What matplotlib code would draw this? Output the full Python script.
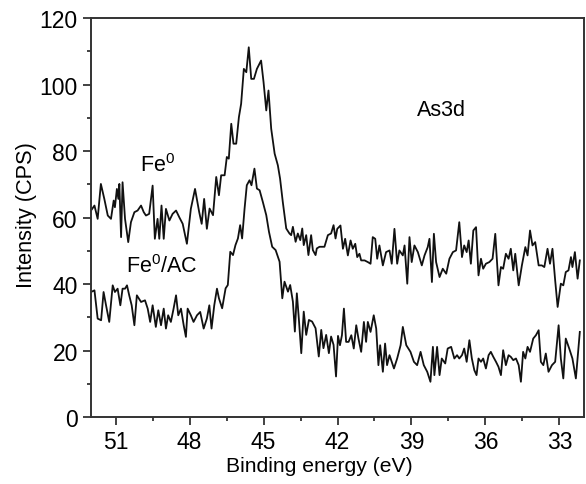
import matplotlib
matplotlib.use("Agg")
import matplotlib.pyplot as plt
from matplotlib.ticker import MultipleLocator

plt.rcParams['font.family'] = ['Liberation Sans', 'DejaVu Sans']
plt.rcParams['mathtext.default'] = 'regular'

# Fe0 spectrum (binding energy eV, intensity CPS)
x_fe = [52.00, 51.86, 51.73, 51.60, 51.46, 51.32, 51.19, 51.08, 51.03, 50.95, 50.89, 50.85,
        50.78, 50.72, 50.62, 50.49, 50.38, 50.24, 50.11, 49.97, 49.86, 49.77, 49.64, 49.50,
        49.41, 49.30, 49.23, 49.14, 49.05, 48.96, 48.82, 48.69, 48.55, 48.42, 48.28, 48.11,
        47.95, 47.78, 47.61, 47.51, 47.41, 47.30, 47.19, 47.05, 46.92, 46.81, 46.72, 46.58,
        46.49, 46.41, 46.31, 46.22, 46.11, 46.00, 45.91, 45.80, 45.70, 45.60, 45.50, 45.39,
        45.27, 45.10, 45.00, 44.89, 44.80, 44.69, 44.55, 44.42, 44.33, 44.22, 44.08, 43.95,
        43.88, 43.81, 43.70, 43.61, 43.51, 43.43, 43.37, 43.27, 43.18, 43.07, 43.00, 42.89,
        42.84, 42.73, 42.53, 42.39, 42.26, 42.16, 42.08, 42.01, 41.88, 41.78, 41.69, 41.58,
        41.47, 41.38, 41.28, 41.20, 41.11, 41.04, 40.90, 40.77, 40.66, 40.57, 40.47, 40.39,
        40.30, 40.16, 40.03, 39.89, 39.80, 39.69, 39.58, 39.49, 39.35, 39.28, 39.17, 39.08,
        38.99, 38.88, 38.74, 38.58, 38.47, 38.34, 38.27, 38.17, 38.09, 38.00, 37.86, 37.73,
        37.59, 37.46, 37.32, 37.19, 37.06, 36.95, 36.86, 36.76, 36.68, 36.59, 36.49, 36.38,
        36.28, 36.18, 36.09, 35.98, 35.84, 35.71, 35.60, 35.47, 35.37, 35.28, 35.17, 35.06,
        34.97, 34.87, 34.79, 34.65, 34.52, 34.38, 34.29, 34.19, 34.09, 33.98, 33.84, 33.71,
        33.61, 33.48, 33.38, 33.28, 33.17, 33.07, 32.94, 32.84, 32.74, 32.63, 32.53, 32.47,
        32.37, 32.26, 32.17]
y_fe = [62.1, 63.6, 59.6, 70.1, 65.6, 60.6, 59.6, 65.1, 63.1, 68.6, 65.6, 70.1,
        54.1, 70.6, 59.6, 52.6, 58.6, 61.6, 62.1, 63.6, 61.6, 60.6, 61.1, 69.6,
        53.6, 59.6, 53.6, 63.6, 53.6, 62.6, 59.1, 61.1, 62.1, 60.1, 58.1, 52.1,
        62.6, 68.6, 61.6, 58.1, 65.6, 56.6, 62.7, 60.7, 72.2, 66.7, 72.7, 72.7,
        78.2, 77.7, 88.2, 82.2, 82.2, 90.2, 94.2, 104.7, 103.7, 111.2, 101.7, 101.7,
        104.7, 107.2, 100.7, 92.2, 98.2, 86.7, 79.2, 75.7, 71.7, 64.7, 56.7, 55.2,
        54.7, 57.2, 52.7, 55.2, 53.2, 56.7, 51.7, 54.7, 48.7, 54.7, 50.2, 48.7,
        50.7, 51.2, 51.2, 54.7, 55.2, 57.7, 53.7, 56.6, 57.6, 50.6, 53.6, 48.6,
        53.1, 50.6, 52.1, 48.1, 49.1, 47.1, 47.1, 46.6, 46.1, 54.1, 53.6, 47.6,
        51.6, 45.6, 49.6, 50.1, 46.1, 56.6, 46.1, 50.1, 48.6, 51.6, 40.1, 54.1,
        46.6, 51.6, 49.6, 45.6, 48.6, 51.1, 53.6, 40.6, 55.1, 46.6, 42.1, 44.6,
        43.1, 47.6, 49.6, 50.1, 58.6, 48.1, 51.6, 49.6, 53.1, 46.1, 56.1, 57.1,
        42.6, 47.6, 44.6, 46.1, 46.6, 47.6, 55.1, 39.6, 45.1, 44.6, 49.1, 47.6,
        50.6, 44.1, 49.1, 39.6, 45.6, 51.1, 48.6, 56.1, 51.6, 52.6, 45.6, 45.6,
        45.1, 50.6, 46.1, 50.6, 41.1, 33.1, 40.1, 39.6, 43.6, 44.1, 48.1, 45.1,
        49.6, 41.6, 47.1]

# Fe0/AC spectrum
x_feac = [52.00, 51.86, 51.73, 51.59, 51.49, 51.39, 51.26, 51.12, 51.03, 50.92, 50.81, 50.72,
          50.62, 50.54, 50.45, 50.35, 50.24, 50.14, 49.97, 49.81, 49.70, 49.60, 49.50, 49.37,
          49.27, 49.16, 49.05, 48.96, 48.87, 48.76, 48.65, 48.55, 48.46, 48.35, 48.24, 48.15,
          48.08, 47.95, 47.84, 47.70, 47.57, 47.43, 47.30, 47.20, 47.11, 47.00, 46.89, 46.81,
          46.68, 46.54, 46.45, 46.35, 46.24, 46.14, 46.04, 45.95, 45.87, 45.77, 45.68, 45.57,
          45.49, 45.37, 45.27, 45.16, 45.03, 44.89, 44.78, 44.65, 44.51, 44.35, 44.24, 44.15,
          44.01, 43.92, 43.81, 43.73, 43.65, 43.57, 43.47, 43.37, 43.27, 43.16, 43.03, 42.89,
          42.76, 42.66, 42.57, 42.46, 42.35, 42.26, 42.16, 42.06, 41.98, 41.90, 41.82, 41.74,
          41.65, 41.55, 41.44, 41.34, 41.24, 41.15, 41.04, 40.93, 40.84, 40.77, 40.66, 40.53,
          40.43, 40.34, 40.27, 40.16, 40.07, 39.99, 39.89, 39.80, 39.71, 39.58, 39.44, 39.35,
          39.21, 39.04, 38.90, 38.77, 38.63, 38.50, 38.36, 38.23, 38.13, 38.07, 37.96, 37.86,
          37.77, 37.63, 37.53, 37.39, 37.26, 37.15, 37.06, 36.95, 36.86, 36.76, 36.65, 36.55,
          36.45, 36.36, 36.28, 36.18, 36.09, 35.98, 35.87, 35.78, 35.68, 35.57, 35.47, 35.37,
          35.28, 35.17, 35.06, 34.97, 34.87, 34.76, 34.65, 34.56, 34.47, 34.38, 34.29, 34.19,
          34.06, 33.95, 33.84, 33.75, 33.65, 33.55, 33.44, 33.30, 33.17, 33.03, 32.94, 32.84,
          32.74, 32.60, 32.47, 32.33, 32.17]
y_feac = [37.6, 38.1, 29.6, 29.1, 37.6, 33.6, 28.6, 39.6, 37.6, 38.6, 33.6, 38.6,
          38.6, 39.6, 36.6, 33.6, 27.6, 36.6, 34.6, 35.1, 32.6, 28.6, 33.6, 27.1,
          32.1, 27.6, 32.6, 26.6, 30.6, 28.6, 32.6, 36.6, 30.6, 32.6, 27.6, 24.1,
          32.6, 30.6, 28.6, 30.6, 31.6, 26.6, 29.6, 33.6, 26.6, 33.6, 38.6, 35.7,
          32.7, 38.7, 39.7, 49.7, 48.7, 51.7, 53.7, 57.7, 53.7, 62.7, 69.7, 71.2,
          69.7, 74.7, 68.7, 68.2, 64.7, 60.7, 55.7, 51.2, 50.2, 46.7, 35.7, 40.7,
          37.7, 39.7, 34.7, 25.7, 37.2, 29.7, 19.2, 31.7, 24.7, 29.2, 28.7, 26.7,
          18.2, 26.2, 20.7, 24.7, 19.2, 24.2, 21.7, 12.2, 24.4, 21.6, 24.6, 32.6,
          22.6, 22.6, 24.6, 20.6, 27.6, 23.6, 19.6, 28.6, 22.6, 28.6, 25.6, 30.6,
          26.6, 15.6, 21.6, 13.6, 22.1, 15.6, 18.6, 16.6, 14.6, 17.6, 21.6, 27.1,
          21.6, 19.6, 16.6, 15.6, 19.6, 15.6, 13.6, 10.6, 21.1, 12.6, 21.1, 12.6,
          17.6, 16.1, 20.6, 21.1, 17.6, 18.6, 17.6, 18.6, 20.6, 16.6, 23.1, 17.6,
          14.1, 12.6, 17.6, 16.6, 17.6, 14.6, 18.6, 19.6, 18.1, 16.6, 15.1, 12.6,
          20.1, 15.6, 18.6, 18.1, 17.1, 17.6, 15.6, 10.6, 19.6, 17.6, 21.1, 19.6,
          23.6, 24.6, 26.1, 16.6, 15.6, 19.1, 13.6, 15.6, 16.6, 27.6, 17.6, 11.6,
          23.6, 20.6, 17.6, 11.6, 25.6]

x_ticks = [51, 48, 45, 42, 39, 36, 33]
y_ticks = [0, 20, 40, 60, 80, 100, 120]

fig = plt.figure(figsize=(5.86, 4.85), dpi=100)
ax = fig.add_axes([0.1553, 0.1381, 0.8413, 0.8227])

ax.plot(x_fe, y_fe, color='#111111', lw=1.3)
ax.plot(x_feac, y_feac, color='#111111', lw=1.3)

ax.set_xlim(52.0, 32.0)
ax.set_ylim(0, 120)
ax.set_xticks(x_ticks)
ax.set_yticks(y_ticks)
ax.xaxis.set_minor_locator(MultipleLocator(1.5))
ax.yaxis.set_minor_locator(MultipleLocator(10))

ax.tick_params(which='both', direction='out', top=False, right=False,
               width=1.3, color='#333333')
ax.tick_params(which='major', length=6, labelsize=16.5, pad=3.5)
ax.tick_params(which='minor', length=3.2)
for s in ax.spines.values():
    s.set_linewidth(1.4)
    s.set_color('#333333')

ax.set_xlabel('Binding energy (eV)', fontsize=15.2)
ax.xaxis.set_label_coords(0.4625, -0.098)
ax.set_ylabel('Intensity (CPS)', fontsize=15.7)
ax.yaxis.set_label_coords(-0.11, 0.508)

ax.text(50.03, 75.8, 'Fe$^0$', fontsize=15.5, ha='left', va='center')
ax.text(50.57, 45.6, 'Fe$^0$/AC', fontsize=15.5, ha='left', va='center')
ax.text(38.76, 92.6, 'As3d', fontsize=15.5, ha='left', va='center')

fig.savefig('out.png', dpi=100)
